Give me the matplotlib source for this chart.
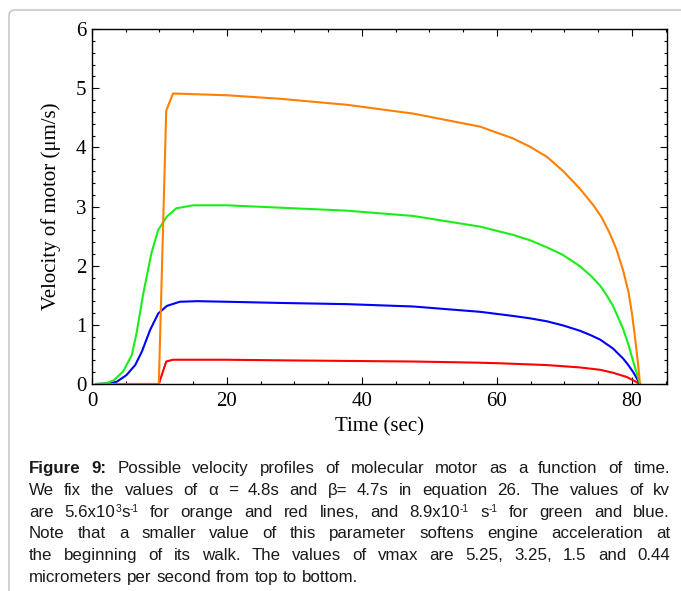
import matplotlib
matplotlib.use("Agg")
import matplotlib.pyplot as plt
from matplotlib import font_manager
from matplotlib.patches import FancyBboxPatch
from matplotlib.transforms import IdentityTransform
from matplotlib.ticker import MultipleLocator

# data (time in sec, velocity in um/s)
t_orange = [0.7, 9.9, 11.0, 12.0, 20, 27.9, 37.7, 47.6, 57.5, 62.4, 64.9, 67.4,
            69.8, 72.3, 74.3, 75.5, 76.7, 77.7, 78.7, 79.5, 80.0, 80.5, 80.9, 81.2]
v_orange = [0, 0, 4.62, 4.91, 4.88, 4.82, 4.72, 4.57, 4.35, 4.15, 4.01, 3.84,
            3.60, 3.30, 3.02, 2.82, 2.55, 2.28, 1.92, 1.55, 1.20, 0.75, 0.35, 0]

t_green = [0.7, 2.0, 3.2, 4.6, 5.9, 6.6, 7.6, 8.8, 9.8, 11.1, 12.5, 15, 20, 27.9,
           37.7, 47.6, 57.5, 62.4, 64.9, 67.4, 69.8, 72.3, 74.0, 75.3, 76.2,
           77.2, 77.9, 78.7, 79.5, 80.3, 81.2]
v_green = [0, 0.01, 0.06, 0.21, 0.49, 0.86, 1.53, 2.21, 2.60, 2.83, 2.97, 3.02,
           3.02, 2.98, 2.93, 2.84, 2.66, 2.52, 2.43, 2.31, 2.18, 1.99, 1.82,
           1.66, 1.51, 1.32, 1.14, 0.93, 0.66, 0.34, 0]

t_blue = [0.7, 2.5, 3.7, 5.1, 6.4, 7.4, 8.6, 9.8, 11.1, 13, 15.6, 20, 27.9, 37.7,
          47.6, 57.5, 62.4, 64.9, 67.4, 69.8, 72.3, 74.0, 75.3, 77.2, 77.9,
          78.7, 79.4, 80.2, 81.2]
v_blue = [0, 0.01, 0.04, 0.15, 0.32, 0.55, 0.91, 1.19, 1.32, 1.39, 1.40, 1.39,
          1.37, 1.35, 1.31, 1.22, 1.15, 1.11, 1.06, 0.99, 0.90, 0.82, 0.75,
          0.60, 0.52, 0.43, 0.33, 0.20, 0]

t_red = [0.7, 9.9, 11.0, 12.0, 20, 27.9, 47.6, 57.5, 60.4, 67.4, 72.3, 75.3,
         77.2, 79.2, 80.4, 81.2]
v_red = [0, 0, 0.38, 0.41, 0.41, 0.40, 0.38, 0.36, 0.35, 0.32, 0.28, 0.24,
         0.19, 0.12, 0.05, 0]

x_ticks = [0, 20, 40, 60, 80]
y_ticks = [0, 1, 2, 3, 4, 5, 6]

# caption, one list of words per line; a word is a list of (text, style)
caption_lines = [
    [[("Figure", "b")], [("9:", "b")], [("Possible", "n")], [("velocity", "n")],
     [("profiles", "n")], [("of", "n")], [("molecular", "n")], [("motor", "n")],
     [("as", "n")], [("a", "n")], [("function", "n")], [("of", "n")], [("time.", "n")]],
    [[(w, "n")] for w in "We fix the values of α = 4.8s and β= 4.7s in equation 26. The values of kv".split()],
    [[("are", "n")], [("5.6x10", "n"), ("3", "s"), ("s", "n"), ("-1", "s")],
     [("for", "n")], [("orange", "n")], [("and", "n")], [("red", "n")],
     [("lines,", "n")], [("and", "n")], [("8.9x10", "n"), ("-1", "s")],
     [("s", "n"), ("-1", "s")], [("for", "n")], [("green", "n")], [("and", "n")],
     [("blue.", "n")]],
    [[(w, "n")] for w in "Note that a smaller value of this parameter softens engine acceleration at".split()],
    [[(w, "n")] for w in "the beginning of its walk. The values of vmax are 5.25, 3.25, 1.5 and 0.44".split()],
    [[(w, "n")] for w in "micrometers per second from top to bottom.".split()],
]

W, H = 681, 591
fig = plt.figure(figsize=(W / 100, H / 100), dpi=100)
serif = "Liberation Serif"

# page frame
frame = FancyBboxPatch((9, -50), 900, H - 10 + 50, boxstyle="round,pad=0,rounding_size=6",
                       transform=IdentityTransform(), facecolor="none",
                       edgecolor="#c8c8c8", linewidth=1.2)
fig.patches.append(frame)

ax = fig.add_axes([92 / W, 1 - 384 / H, (667 - 92) / W, (384 - 29) / H])
lw = 1.5
ax.plot(t_red, v_red, color="#ff0000", lw=lw)
ax.plot(t_blue, v_blue, color="#0000ff", lw=lw)
ax.plot(t_green, v_green, color="#1aee1a", lw=lw)
ax.plot(t_orange, v_orange, color="#ff8000", lw=lw)

ax.set_xlim(0, 85.2)
ax.set_ylim(0, 6)
ax.set_xticks(x_ticks)
ax.set_yticks(y_ticks)
ax.xaxis.set_minor_locator(MultipleLocator(5))
ax.yaxis.set_minor_locator(MultipleLocator(0.2))
ax.tick_params(which="both", direction="in", top=True, right=True, width=0.8)
ax.tick_params(which="major", length=5, labelsize=15, pad=4)
ax.tick_params(which="minor", length=2.5)
ax.tick_params(axis="x", which="major", pad=6)
for lab in ax.get_xticklabels() + ax.get_yticklabels():
    lab.set_family(serif)
for s in ax.spines.values():
    s.set_linewidth(1.0)
ax.set_xlabel("Time (sec)", family=serif, fontsize=15, labelpad=4)
ax.set_ylabel("Velocity of motor (μm/s)", family=serif, fontsize=15, labelpad=11)

# justified caption
names = {f.name for f in font_manager.fontManager.ttflist}
cap_family = "Liberation Sans Narrow" if "Liberation Sans Narrow" in names else "Liberation Sans"
cap_size = 12.2
renderer = fig.canvas.get_renderer()
left, right = 29, 670
baseline0, step = 473, 21.8


def seg_text(x, y, s, style, size):
    kw = dict(transform=IdentityTransform(), va="baseline", ha="left",
              family=[cap_family, "DejaVu Sans"], color="#1a1a1a")
    if style == "b":
        return fig.text(x, y, s, fontsize=size, weight="bold", **kw)
    if style == "s":
        return fig.text(x, y + 5, s, fontsize=size * 0.6, **kw)
    return fig.text(x, y, s, fontsize=size, **kw)


def measure(s, style, size):
    t = seg_text(0, 300, s, style, size)
    w = t.get_window_extent(renderer).width
    t.remove()
    return w


space = measure("a a", "n", cap_size) - measure("aa", "n", cap_size)

# shrink if a line does not fit at its natural spacing
widest = 0
for words in caption_lines:
    tot = sum(measure(s, st, cap_size) for word in words for s, st in word)
    widest = max(widest, tot + space * (len(words) - 1))
if widest > right - left:
    cap_size *= (right - left) / widest
    space = measure("a a", "n", cap_size) - measure("aa", "n", cap_size)

for i, words in enumerate(caption_lines):
    y = H - (baseline0 + i * step)
    widths = [sum(measure(s, st, cap_size) for s, st in word) for word in words]
    last = i == len(caption_lines) - 1
    gap = space if last else (right - left - sum(widths)) / (len(words) - 1)
    x = left
    for word, wd in zip(words, widths):
        xx = x
        for s, st in word:
            seg_text(xx, y, s, st, cap_size)
            xx += measure(s, st, cap_size)
        x += wd + gap

fig.savefig("out.png", dpi=100)
